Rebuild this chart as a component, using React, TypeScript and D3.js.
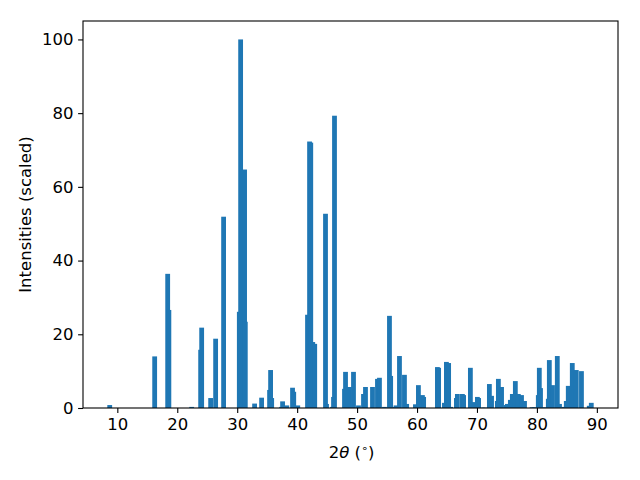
import React, { useEffect, useRef } from "react";
import * as d3 from "d3";

// diffraction peaks: position (2theta, degrees) and scaled intensity
const twoTheta = [
  8.73, 16.23, 18.4, 18.6, 22.4, 23.9, 24.07, 25.57, 26.4, 27.73,
  30.35, 30.57, 31.23, 31.35, 32.9, 34.07, 35.4, 35.57, 35.75, 37.4,
  37.57, 38.27, 39.23, 39.43, 40.1, 41.73, 42.07, 42.27, 42.6, 42.93,
  44.73, 44.9, 45.9, 46.07, 46.23, 47.9, 48.07, 48.73, 49.4, 50.23,
  51.07, 51.4, 52.57, 53.4, 53.73, 54.57, 55.4, 55.6, 56.2, 56.5,
  57.07, 57.9, 58.27, 59.73, 60.23, 60.9, 61.1, 63.4, 63.6, 64.57,
  64.9, 65.27, 65.6, 66.57, 66.73, 67.57, 67.77, 68.9, 69.57, 70.07,
  70.27, 70.9, 71.3, 72.07, 72.43, 73.4, 73.57, 74.1, 74.9, 75.07,
  75.57, 75.9, 76.4, 76.9, 77.43, 77.93, 79.2, 79.6, 80.23, 80.4,
  80.6, 81.1, 81.9, 82.07, 82.6, 83.4, 83.77, 84.57, 84.9, 85.23,
  85.9, 86.57, 87.43, 88.73, 89.07,
];
const intensity = [
  0.8, 14, 36.4, 26.6, 0.3, 15.8, 21.8, 2.7, 18.8, 51.9,
  26.1, 100, 64.7, 23.4, 1.2, 2.8, 4.9, 10.3, 2.7, 0.3,
  1.8, 0.7, 5.5, 4.4, 0.7, 25.3, 72.3, 72.0, 17.9, 17.4,
  52.7, 1.1, 0.3, 3.0, 79.3, 5.2, 9.8, 5.7, 9.8, 0.7,
  3.8, 5.7, 5.7, 7.9, 8.2, 0.3, 25.0, 8.7, 0.3, 0.7,
  14.1, 9.0, 1.1, 1.0, 6.2, 3.5, 3.0, 11.1, 10.9, 1.4,
  12.5, 12.2, 0.3, 2.7, 3.8, 3.8, 3.5, 10.9, 1.6, 3.0,
  2.7, 0.1, 0.1, 6.5, 3.3, 1.9, 7.9, 5.7, 0.8, 1.1,
  2.2, 3.8, 7.3, 3.8, 3.5, 1.9, 0.2, 0.2, 3.5, 10.9,
  5.4, 0.2, 2.5, 13.0, 6.2, 14.1, 1.1, 0.3, 1.9, 6.0,
  12.2, 10.3, 10.0, 0.6, 1.4,
];
const xTicks = [10, 20, 30, 40, 50, 60, 70, 80, 90];
const yTicks = [0, 20, 40, 60, 80, 100];

const barWidth = 0.8;

const App = () => {
  const ref = useRef<SVGSVGElement>(null);

  useEffect(() => {
    const svg = d3.select(ref.current);
    svg.selectAll("*").remove();

    const left = 83, right = 618, top = 21, bottom = 408;
    const font = "'DejaVu Sans', sans-serif";

    const xmin = d3.min(twoTheta)! - barWidth / 2;
    const xmax = d3.max(twoTheta)! + barWidth / 2;
    const pad = (xmax - xmin) * 0.05;
    const x = d3.scaleLinear().domain([xmin - pad, xmax + pad]).range([left, right]);
    const y = d3.scaleLinear().domain([0, d3.max(intensity)! * 1.05]).range([bottom, top]);

    const data = twoTheta.map((t, i) => ({ t, v: intensity[i] }));

    svg.append("g")
      .selectAll("rect")
      .data(data)
      .join("rect")
      .attr("x", d => x(d.t - barWidth / 2))
      .attr("width", d => x(d.t + barWidth / 2) - x(d.t - barWidth / 2))
      .attr("y", d => y(d.v))
      .attr("height", d => y(0) - y(d.v))
      .attr("fill", "#1f77b4");

    const xAxis = d3.axisBottom(x).tickValues(xTicks).tickSize(4.9).tickPadding(4.5);
    const gx = svg.append("g").attr("transform", `translate(0,${bottom})`).call(xAxis);
    const yAxis = d3.axisLeft(y).tickValues(yTicks).tickSize(4.9).tickPadding(4.5);
    const gy = svg.append("g").attr("transform", `translate(${left},0)`).call(yAxis);

    [gx, gy].forEach(g => {
      g.select(".domain").remove();
      g.selectAll("line").attr("stroke", "#000").attr("stroke-width", 1.1);
      g.selectAll("text")
        .attr("fill", "#000")
        .style("font-family", font)
        .style("font-size", "16.5px");
    });
    gx.selectAll("text").attr("dy", "0.78em");

    // frame
    svg.append("rect")
      .attr("x", left).attr("y", top)
      .attr("width", right - left).attr("height", bottom - top)
      .attr("fill", "none").attr("stroke", "#000").attr("stroke-width", 1.1);

    // x label
    const xl = svg.append("text")
      .attr("x", (left + right) / 2 + 1)
      .attr("y", 458)
      .attr("text-anchor", "middle")
      .style("font-family", font)
      .style("font-size", "16.5px");
    xl.append("tspan").text("2");
    xl.append("tspan").attr("font-style", "italic").text("θ");
    xl.append("tspan").text(" (");
    xl.append("tspan").attr("dy", -6).style("font-size", "11px").text("∘");
    xl.append("tspan").attr("dy", 6).text(")");

    svg.append("text")
      .attr("transform", `translate(31,${(top + bottom) / 2}) rotate(-90)`)
      .attr("text-anchor", "middle")
      .style("font-family", font)
      .style("font-size", "16.5px")
      .text("Intensities (scaled)");
  }, []);

  return (
    <div style={{ position: "fixed", left: 0, top: 0 }}>
      <svg ref={ref} width={640} height={480} style={{ display: "block", background: "#fff" }} />
    </div>
  );
};

export default App;
